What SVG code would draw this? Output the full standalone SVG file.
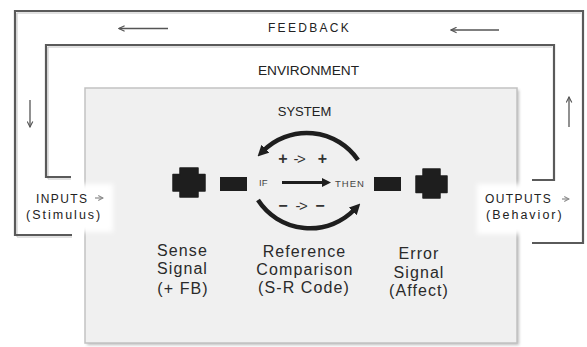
<svg xmlns="http://www.w3.org/2000/svg" width="587" height="347" viewBox="0 0 587 347">
  <defs>
    <style>
      .frame { fill: none; stroke: #5a5a5a; stroke-width: 2.2; stroke-linejoin: miter; }
      .frame-edge { fill: none; stroke: #c4c4c4; stroke-width: 1; }
      .thin { fill: none; stroke: #555; stroke-width: 1.3; }
      .tiny { fill: none; stroke: #8a8a8a; stroke-width: 1.2; }
      .arc { fill: none; stroke: #1e1e1e; stroke-width: 4.5; }
      .block { fill: #1e1e1e; stroke: #1e1e1e; stroke-width: 1.5; stroke-linejoin: round; }
      .txt { font-family: "Liberation Sans", Arial, sans-serif; fill: #222; }
      .head { font-size: 12px; letter-spacing: 2.3px; text-anchor: middle; }
      .io { font-size: 12px; letter-spacing: 1.4px; }
      .io2 { font-size: 12.5px; letter-spacing: 2px; }
      .cap { font-size: 16px; letter-spacing: 1.1px; text-anchor: middle; fill: #2a2a2a; }
      .sign { font-size: 15px; text-anchor: middle; fill: #333; }
      .op { font-weight: bold; font-size: 16px; }
      .small { font-size: 9.5px; fill: #444; }
    </style>
    <marker id="chev" viewBox="0 0 10 10" refX="9" refY="5" markerWidth="7" markerHeight="7" markerUnits="userSpaceOnUse" orient="auto">
      <path d="M1,1 L9,5 L1,9" fill="none" stroke="#555" stroke-width="1.6"/>
    </marker>
    <marker id="chev-light" viewBox="0 0 10 10" refX="9" refY="5" markerWidth="6" markerHeight="6" markerUnits="userSpaceOnUse" orient="auto">
      <path d="M1,1 L9,5 L1,9" fill="none" stroke="#8a8a8a" stroke-width="1.8"/>
    </marker>
    <marker id="bold-head" viewBox="0 0 10 10" refX="3" refY="5" markerWidth="11" markerHeight="11" markerUnits="userSpaceOnUse" orient="auto">
      <path d="M0,0 L10,5 L0,10 z" fill="#1e1e1e"/>
    </marker>
    <filter id="soft" x="-20%" y="-30%" width="140%" height="160%">
      <feGaussianBlur stdDeviation="2.5"/>
    </filter>
    <filter id="shade" x="-5%" y="-5%" width="110%" height="110%">
      <feGaussianBlur stdDeviation="1.5"/>
    </filter>
  </defs>

  <rect width="587" height="347" fill="#fff"/>

  <!-- system box -->
  <g id="system">
    <rect x="87" y="90" width="432" height="255" fill="#bdbdbd" filter="url(#shade)"/>
    <rect x="85" y="88" width="432" height="255" fill="#f0f0f0" stroke="#c2c2c2" stroke-width="1.5"/>
    <text class="txt" x="304.5" y="116" font-size="13" text-anchor="middle">SYSTEM</text>
  </g>

  <!-- white halos behind the input/output labels -->
  <rect x="19" y="184" width="94" height="48" fill="#fff" filter="url(#soft)"/>
  <rect x="477" y="184" width="99" height="50" fill="#fff" filter="url(#soft)"/>

  <!-- feedback loop frame -->
  <g id="feedback">
    <path class="frame-edge" d="M72,237 H17 V13 H581"/>
    <path class="frame" d="M72,235 H15 V11 H583 V243 H532"/>
    <text class="txt head" x="309.5" y="32">FEEDBACK</text>
  </g>

  <!-- environment frame -->
  <g id="environment">
    <path class="frame-edge" d="M71,179 H48 V47 H552"/>
    <path class="frame" d="M71,177 H46 V45 H554 V180 H532"/>
    <text class="txt" x="308.5" y="75" font-size="13.7" text-anchor="middle">ENVIRONMENT</text>
  </g>

  <g id="inputs">
    <text class="txt io" x="36" y="203">INPUTS</text>
    <text class="txt io2" x="26" y="219">(Stimulus)</text>
  </g>

  <g id="outputs">
    <text class="txt io" x="485" y="203">OUTPUTS</text>
    <text class="txt io2" x="486" y="219" letter-spacing="2.3">(Behavior)</text>
  </g>

  <!-- sense signal -->
  <g id="sense">
    <polygon class="block" points="180,168 198,168 198,174.5 205,174.5 205,191 198,191 198,197 180,197 180,191 173,191 173,174.5 180,174.5"/>
    <rect x="220" y="177" width="27" height="14" fill="#1e1e1e"/>
    <text class="txt cap" x="182.5" y="256">Sense</text>
    <text class="txt cap" x="182.5" y="274">Signal</text>
    <text class="txt cap" x="183" y="294">(+ FB)</text>
  </g>

  <!-- reference comparison -->
  <g id="reference">
    <text class="txt small" x="259" y="186">IF</text>
    <text class="txt small" x="335" y="187" letter-spacing="1">THEN</text>
    <text class="txt sign" y="164"><tspan class="op" x="283">+</tspan><tspan x="299" letter-spacing="-1.5">-&gt;</tspan><tspan class="op" x="322.5">+</tspan></text>
    <text class="txt sign" y="211"><tspan class="op" x="283">−</tspan><tspan x="301" letter-spacing="-1.5">-&gt;</tspan><tspan class="op" x="320">−</tspan></text>
    <text class="txt cap" x="304.5" y="257">Reference</text>
    <text class="txt cap" x="305" y="275">Comparison</text>
    <text class="txt cap" x="304" y="293">(S-R Code)</text>
  </g>

  <!-- error signal -->
  <g id="error">
    <rect x="374" y="177" width="27" height="14" fill="#1e1e1e"/>
    <polygon class="block" points="423,169 440,169 440,176 447,176 447,192.5 440,192.5 440,198 423,198 423,192.5 416,192.5 416,176 423,176"/>
    <text class="txt cap" x="419" y="259">Error</text>
    <text class="txt cap" x="419" y="278">Signal</text>
    <text class="txt cap" x="419" y="296">(Affect)</text>
  </g>

  <!-- connectors -->
  <g id="connectors">
    <path class="thin" d="M168,28.5 H119" marker-end="url(#chev)"/>
    <path class="thin" d="M499,30 H451" marker-end="url(#chev)"/>
    <path class="thin" d="M30,100 V127" marker-end="url(#chev)"/>
    <path class="thin" d="M569,127 V97" marker-end="url(#chev)"/>
    <path class="tiny" d="M95,198 H103" marker-end="url(#chev-light)"/>
    <path class="tiny" d="M562,199 H569" marker-end="url(#chev-light)"/>
    <path d="M282,182.5 H323" stroke="#1e1e1e" stroke-width="3"/>
    <polygon points="322,178 331,182.5 322,187" fill="#1e1e1e"/>
    <path class="arc" d="M358,160 A62 62 0 0 0 263,151" marker-end="url(#bold-head)"/>
    <path class="arc" d="M258,200 A62 62 0 0 0 355,209" marker-end="url(#bold-head)"/>
  </g>
</svg>
